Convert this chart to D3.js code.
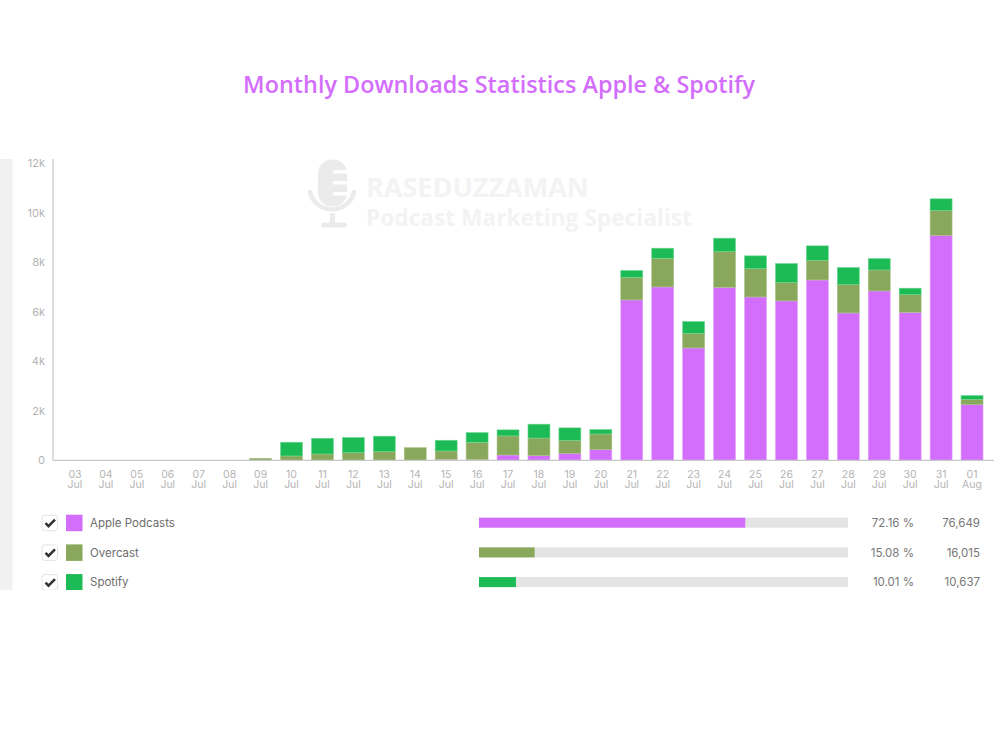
<!DOCTYPE html>
<html>
<head>
<meta charset="utf-8">
<script src="https://cdnjs.cloudflare.com/ajax/libs/d3/7.8.5/d3.min.js"></script>
<style>
html,body{margin:0;padding:0;background:#fff;}
svg{display:block;}
</style>
</head>
<body>
<svg id="chart" width="1000" height="750"></svg>
<script>
const days = ["03","04","05","06","07","08","09","10","11","12","13","14","15","16","17","18","19","20","21","22","23","24","25","26","27","28","29","30","31","01"];
const months = ["Jul","Jul","Jul","Jul","Jul","Jul","Jul","Jul","Jul","Jul","Jul","Jul","Jul","Jul","Jul","Jul","Jul","Jul","Jul","Jul","Jul","Jul","Jul","Jul","Jul","Jul","Jul","Jul","Jul","Aug"];
const applePodcasts = [0,0,0,0,0,0,0,0,0,0,0,0,40,30,215,190,283,430,6480,7005,4540,6990,6600,6440,7287,5954,6843,5980,9090,2250];
const overcast = [0,0,0,0,0,0,80,175,255,310,350,510,337,697,770,710,525,634,915,1158,590,1440,1145,740,793,1146,847,715,1000,215];
const spotify = [0,0,0,0,0,0,0,555,635,610,625,0,433,393,245,560,502,179,275,407,477,545,515,770,585,690,463,259,475,152];
const yTicks = [0,2000,4000,6000,8000,10000,12000];

const seriesNames = ["Apple Podcasts","Overcast","Spotify"];
const seriesColors = ["#d36efc","#89a85b","#1dbb55"];
const seriesEdges = ["#e3a4fd","#a9c488","#6fd893"];
const seriesShares = [72.16,15.08,10.01];
const seriesShareLabels = ["72.16 %","15.08 %","10.01 %"];
const seriesTotals = ["76,649","16,015","10,637"];

const svg = d3.select("#chart");
const sans = "Inter, 'Noto Sans', sans-serif";

// Page furniture: heading and the pale strip down the left edge
svg.append("rect").attr("x",0).attr("y",159).attr("width",12.5).attr("height",431).attr("fill","#f1f1f1");
svg.append("text").attr("x",499).attr("y",92.5).attr("text-anchor","middle")
  .attr("font-family","'Open Sans', sans-serif").attr("font-weight",600).attr("font-size",23.4)
  .attr("fill","#d36efc").text("Monthly Downloads Statistics Apple & Spotify");

// Watermark behind the plot
const mark = svg.append("g").attr("fill","#ebebeb");
mark.append("rect").attr("x",318).attr("y",159.5).attr("width",29).attr("height",47).attr("rx",14);
mark.selectAll("rect.slot").data([0,1,2]).join("rect").attr("class","slot")
  .attr("x",333).attr("y",d=>170+d*11).attr("width",15).attr("height",3.5).attr("fill","#fff");
mark.append("path").attr("d","M310 192a22.5 22 0 0 0 44 0").attr("fill","none").attr("stroke","#ebebeb").attr("stroke-width",4.5).attr("stroke-linecap","round");
mark.append("rect").attr("x",330).attr("y",213).attr("width",5).attr("height",11);
mark.append("rect").attr("x",321).attr("y",222.5).attr("width",26).attr("height",5).attr("rx",2.5);
const markText = svg.append("g").attr("font-family","'Open Sans', sans-serif").attr("font-weight",700).attr("fill","#f3f3f3");
markText.append("text").attr("x",366).attr("y",196.5).attr("font-size",27).text("RASEDUZZAMAN");
markText.append("text").attr("x",366).attr("y",226).attr("font-size",22.7).text("Podcast Marketing Specialist");

// Scales
const x = d3.scaleBand().domain(days.map((d,i)=>i)).range([59.5,987.5]).paddingInner(0.29).paddingOuter(0.145);
const y = d3.scaleLinear().domain([0,12000]).range([460.3,163.3]);

// Stacked columns
const rows = days.map((d,i)=>({i,apple:applePodcasts[i],overcast:overcast[i],spotify:spotify[i]}));
const stack = d3.stack().keys(["apple","overcast","spotify"])(rows);
svg.append("g").selectAll("g").data(stack).join("g")
  .attr("fill",(s,k)=>seriesColors[k]).attr("stroke",(s,k)=>seriesEdges[k]).attr("stroke-width",0.6)
  .selectAll("rect").data(s=>s.filter(p=>p[1]>p[0])).join("rect")
  .attr("x",p=>x(p.data.i)).attr("width",x.bandwidth())
  .attr("y",p=>y(p[1])).attr("height",p=>y(p[0])-y(p[1]));

// Y axis, with its line running slightly past the top tick
const yAxis = svg.append("g").attr("transform","translate(53,0)")
  .call(d3.axisLeft(y).tickValues(yTicks).tickSize(0).tickPadding(8).tickFormat(d=>d===0?"0":(d/1000)+"k"));
yAxis.select(".domain").attr("d","M0 159V460.3").attr("stroke","#c8c8c8").attr("stroke-width",1.2);
yAxis.selectAll("text").attr("font-family",sans).attr("font-size",11).attr("fill","#b4b4b4");

// X axis with a two-line label per day
const xAxis = svg.append("g").attr("transform","translate(0,460.3)")
  .call(d3.axisBottom(x).tickSize(0).tickFormat(""));
xAxis.select(".domain").attr("d","M53 0H994").attr("stroke","#c8c8c8").attr("stroke-width",1.2);
xAxis.selectAll(".tick").each(function(i){
  const t = d3.select(this).select("text").attr("y",0).attr("dy",null)
    .attr("font-family",sans).attr("font-size",10.5).attr("fill","#b4b4b4");
  t.append("tspan").attr("x",0).attr("y",18).text(days[i]);
  t.append("tspan").attr("x",0).attr("y",28).text(months[i]);
});

// Legend table, cut off at the bottom of its panel
svg.append("clipPath").attr("id","panel").append("rect").attr("x",0).attr("y",500).attr("width",1000).attr("height",90);
const share = d3.scaleLinear().domain([0,100]).range([0,369]);
const legend = svg.append("g").attr("clip-path","url(#panel)")
  .selectAll("g").data(seriesNames).join("g")
  .attr("transform",(d,i)=>`translate(0,${522.7+i*29.7})`);
legend.append("rect").attr("x",42).attr("y",-7.5).attr("width",15.5).attr("height",15.5).attr("rx",3)
  .attr("fill","#fff").attr("stroke","#e4e4e4").attr("stroke-width",1);
legend.append("path").attr("d","M45.5 0.5l3 3l6.5 -6.5").attr("fill","none").attr("stroke","#333").attr("stroke-width",2.6);
legend.append("rect").attr("x",66).attr("y",-8).attr("width",16.5).attr("height",16.5)
  .attr("fill",(d,i)=>seriesColors[i]);
legend.append("text").attr("x",90).attr("y",4.3).attr("font-family",sans).attr("font-size",11.5).attr("fill","#6d6d6d").text(d=>d);
legend.append("rect").attr("x",479).attr("y",-5).attr("width",share(100)).attr("height",10).attr("fill","#e4e4e4");
legend.append("rect").attr("x",479).attr("y",-5).attr("width",(d,i)=>share(seriesShares[i])).attr("height",10).attr("fill",(d,i)=>seriesColors[i]);
legend.append("text").attr("x",914).attr("y",4.3).attr("text-anchor","end").attr("font-family",sans).attr("font-size",11.5).attr("fill","#777").text((d,i)=>seriesShareLabels[i]);
legend.append("text").attr("x",980).attr("y",4.3).attr("text-anchor","end").attr("font-family",sans).attr("font-size",11.5).attr("fill","#777").text((d,i)=>seriesTotals[i]);
</script>
</body>
</html>
